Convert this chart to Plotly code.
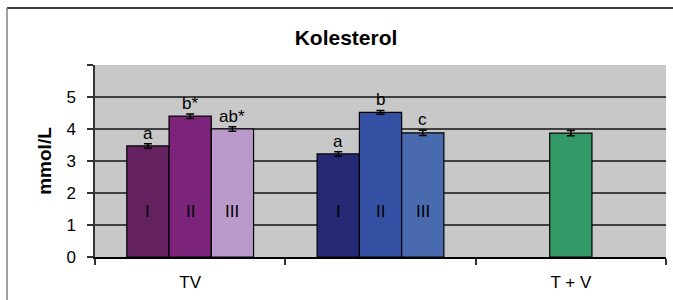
import plotly.graph_objects as go

categories = ["TV", " ", "T + V"]
groups = ["TV", " "]
roman = ["I", "II", "III"]

# values per group (TV, second group) for treatments I, II, III
vals_I = [3.47, 3.22]
vals_II = [4.40, 4.52]
vals_III = [4.00, 3.88]
err_I = [0.07, 0.07]
err_II = [0.07, 0.06]
err_III = [0.07, 0.08]

letters_I = ["a", "a"]
letters_II = ["b*", "b"]
letters_III = ["ab*", "c"]

tv_value = [3.87]
tv_err = [0.08]

colors_I = ["#652261", "#262A74"]
colors_II = ["#7B2479", "#3450A3"]
colors_III = ["#B99ACB", "#4A6AB0"]
color_tv = "#339966"

FONT = "Liberation Sans, Arial, sans-serif"

fig = go.Figure()
W = 0.222
series = [
    (vals_I, err_I, colors_I, letters_I, -1.5 * W, "I"),
    (vals_II, err_II, colors_II, letters_II, -0.5 * W, "II"),
    (vals_III, err_III, colors_III, letters_III, 0.5 * W, "III"),
]
for vals, errs, cols, lets, off, rn in series:
    fig.add_trace(go.Bar(
        x=groups, y=vals, offset=off, width=W,
        marker=dict(color=cols, line=dict(color="#000000", width=1.2)),
        error_y=dict(type="data", array=errs, visible=True, color="#000000", thickness=1.5, width=4),
        showlegend=False,
    ))

fig.add_trace(go.Bar(
    x=["T + V"], y=tv_value, offset=-0.5 * W, width=W,
    marker=dict(color=color_tv, line=dict(color="#000000", width=1.2)),
    error_y=dict(type="data", array=tv_err, visible=True, color="#000000", thickness=1.5, width=4),
    showlegend=False,
))

annotations = []
for vals, errs, cols, lets, off, rn in series:
    for i, g in enumerate(groups):
        xpos = categories.index(g) + off + W / 2
        annotations.append(dict(
            x=xpos, y=vals[i] + errs[i], xref="x", yref="y",
            text=lets[i], showarrow=False, yanchor="bottom", yshift=-1,
            font=dict(family=FONT, size=17, color="#000000"),
        ))
        annotations.append(dict(
            x=xpos, y=1.42, xref="x", yref="y",
            text=rn, showarrow=False,
            font=dict(family=FONT, size=17, color="#000000"),
        ))

fig.update_layout(
    width=673, height=300,
    margin=dict(l=95, r=7, t=65, b=43),
    paper_bgcolor="#FFFFFF",
    plot_bgcolor="#C8C8C8",
    barmode="overlay",
    title=dict(text="<b>Kolesterol</b>", x=346 / 673, xanchor="center", y=1 - 38 / 300, yanchor="middle",
               font=dict(family=FONT, size=21, color="#000000")),
    font=dict(family=FONT, size=17, color="#000000"),
    annotations=annotations,
    shapes=[
        dict(type="line", xref="paper", yref="paper", x0=-88 / 571, x1=1.02, y0=1 + 57 / 192, y1=1 + 57 / 192,
             line=dict(color="#000000", width=1.5)),
        dict(type="line", xref="paper", yref="paper", x0=-88 / 571, x1=-88 / 571, y0=-0.3, y1=1 + 57 / 192,
             line=dict(color="#808080", width=1.5)),
    ],
)

fig.update_xaxes(
    type="category", categoryorder="array", categoryarray=categories,
    range=[-0.5, 2.5],
    tickson="boundaries", ticks="outside", ticklen=6, tickcolor="#333333", tickwidth=1.5,
    showline=True, linecolor="#000000", linewidth=1.5,
    showgrid=False,
    tickfont=dict(size=17),
    ticklabelstandoff=9,
)
fig.update_yaxes(
    range=[0, 6],
    tickvals=[0, 1, 2, 3, 4, 5, 6],
    ticktext=["0", "1", "2", "3", "4", "5", ""],
    ticks="outside", ticklen=6, tickcolor="#333333", tickwidth=1.5,
    showline=True, linecolor="#333333", linewidth=1.5,
    showgrid=True, gridcolor="#404040", gridwidth=1.5,
    zeroline=False,
    tickfont=dict(size=17),
    ticklabelstandoff=8,
    title=dict(text="<b>mmol/L</b>", font=dict(size=19), standoff=10),
)

fig.write_html("out.html", config={"displayModeBar": False},
               post_script="document.body.style.margin='0';")
